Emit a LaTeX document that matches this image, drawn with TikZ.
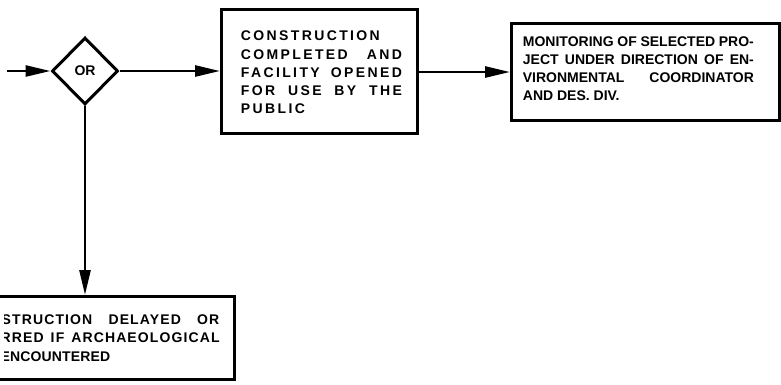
\documentclass[tikz,border=0pt]{standalone}
\usepackage{fontspec}
\setmainfont{Liberation Sans}
\newfontfamily\wideface{Liberation Sans}[LetterSpace=17]
\newfontfamily\spacedface{Liberation Sans}[LetterSpace=8]
\usetikzlibrary{shapes.geometric,arrows.meta}
\begin{document}
\begin{tikzpicture}[x=1pt,y=-1pt,
  box/.style={draw, line width=3pt, rectangle, inner sep=0pt, anchor=north west},
  gate/.style={draw, diamond, line width=3pt, inner sep=0pt,
    minimum width=66pt, minimum height=67pt,
    font=\fontsize{14}{16}\selectfont\bfseries},
  conn/.style={line width=2.6pt, -{Triangle[length=25pt,width=11pt]}},
  txt/.style={inner sep=0pt, font=\fontsize{14}{18}\selectfont\bfseries},
]
\useasboundingbox (0,0) rectangle (781,384);
\clip (0,0) rectangle (781,384);

% boxes and decision gate
\node[gate] (or) at (85,71) {OR};
\node[box, minimum width=196pt, minimum height=124pt] (built) at (220,8) {};
\node[box, minimum width=268pt, minimum height=97pt] (monitor) at (510,22) {};
\node[box, minimum width=243pt, minimum height=83pt] (delay) at (-10,295) {};
\coordinate (in) at (7,71);

% texts of the middle box
\node[txt, anchor=base west] (b1) at (240.7,40.7) {\wideface CONSTRUCTION};
\node[txt, anchor=base west] (b2) at (240.7,59.0) {\makebox[161pt][s]{\wideface COMPLETED AND}};
\node[txt, anchor=base west] (b3) at (240.7,77.3) {\makebox[161pt][s]{\wideface FACILITY OPENED}};
\node[txt, anchor=base west] (b4) at (240.7,95.6) {\makebox[161pt][s]{\wideface FOR USE BY THE}};
\node[txt, anchor=base west] (b5) at (240.7,113.9) {\wideface PUBLIC};

% texts of the right box
\node[txt, anchor=base west] (m1) at (522.7,46) {\makebox[231pt][s]{MONITORING OF SELECTED PRO-}};
\node[txt, anchor=base west] (m2) at (522.7,64.3) {\makebox[231pt][s]{JECT UNDER DIRECTION OF EN-}};
\node[txt, anchor=base west] (m3) at (522.7,82.6) {\makebox[231pt][s]{VIRONMENTAL COORDINATOR}};
\node[txt, anchor=base west] (m4) at (522.7,100.9) {AND DES. DIV.};

% texts of the lower box, trimmed at the left margin
\begin{scope}
  \clip (4.5,296) rectangle (240,384);
  \node[txt, anchor=base west] (d1) at (1.5,324) {\makebox[217.5pt][s]{\spacedface STRUCTION DELAYED OR}};
  \node[txt, anchor=base west] (d2) at (0.5,342.7) {\makebox[219pt][s]{\spacedface RRED IF ARCHAEOLOGICAL}};
  \node[txt, anchor=base west] (d3) at (0.5,361) {\addfontfeature{LetterSpace=1}ENCOUNTERED};
\end{scope}

% connectors
\draw[conn] (in) -- (or.west);
\draw[conn] (or.east) -- (or.east -| built.west);
\draw[conn] (built.east |- monitor.west) -- (monitor.west);
\draw[conn] (or.south) -- (or.south |- delay.north);
\end{tikzpicture}
\end{document}
